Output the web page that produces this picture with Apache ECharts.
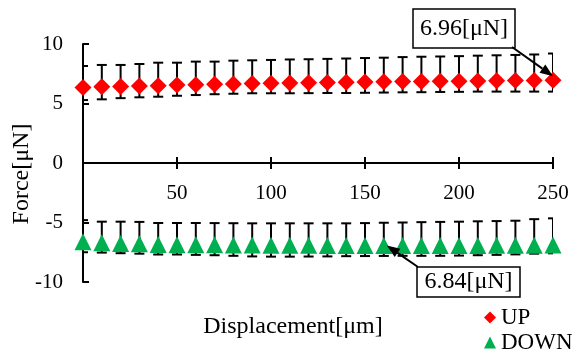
<!DOCTYPE html>
<html>
<head>
<meta charset="utf-8">
<script src="https://cdn.jsdelivr.net/npm/echarts@6/dist/echarts.min.js"></script>
<style>
html,body{margin:0;padding:0;background:#fff;}
#main{width:587px;height:356px;}
</style>
</head>
<body>
<div id="main"></div>
<script>
// displacement [um]
const disp = [0,10,20,30,40,50,60,70,80,90,100,110,120,130,140,150,160,170,180,190,200,210,220,230,240,250];
// UP: mean and error bar ends [uN]
const upMean = [6.35,6.40,6.42,6.47,6.50,6.55,6.57,6.62,6.64,6.68,6.70,6.72,6.74,6.76,6.78,6.80,6.82,6.84,6.85,6.87,6.88,6.90,6.91,6.93,6.94,6.96];
const upHigh = [8.15,8.24,8.24,8.32,8.43,8.43,8.52,8.52,8.60,8.63,8.66,8.70,8.72,8.75,8.78,8.82,8.85,8.90,8.93,8.95,8.98,9.02,9.05,9.08,9.12,9.20];
const upLow  = [5.29,5.35,5.45,5.52,5.57,5.65,5.71,5.78,5.82,5.86,5.86,5.86,5.87,5.88,5.88,5.90,5.92,5.94,5.95,5.97,5.98,6.00,6.00,6.00,6.00,6.00];
// DOWN
const downMean = [-6.62,-6.70,-6.76,-6.78,-6.84,-6.86,-6.87,-6.88,-6.89,-6.90,-6.91,-6.92,-6.92,-6.93,-6.93,-6.94,-6.94,-6.94,-6.94,-6.94,-6.93,-6.93,-6.92,-6.92,-6.91,-6.90];
const downHigh = [-4.80,-4.93,-4.93,-4.95,-5.04,-5.04,-5.04,-5.05,-5.06,-5.07,-5.07,-5.07,-5.07,-5.07,-5.07,-5.05,-5.02,-5.00,-4.97,-4.95,-4.93,-4.90,-4.88,-4.85,-4.72,-4.65];
const downLow  = [-7.50,-7.53,-7.58,-7.62,-7.69,-7.69,-7.72,-7.75,-7.80,-7.85,-7.87,-7.87,-7.86,-7.85,-7.83,-7.82,-7.81,-7.80,-7.80,-7.80,-7.78,-7.75,-7.72,-7.68,-7.62,-7.59];

const upNote = '6.96[μN]';
const downNote = '6.84[μN]';

const FONT = "'Liberation Serif','Times New Roman',serif";

let chart = echarts.init(document.getElementById('main'));

function errorBar(params, api){
    let x = api.value(0);
    let hi = api.coord([x, api.value(1)]);
    let lo = api.coord([x, api.value(2)]);
    let half = 5;
    let style = {stroke:'#000', lineWidth:2};
    return {type:'group', children:[
        {type:'line', shape:{x1:hi[0], y1:hi[1], x2:lo[0], y2:lo[1]}, style:style},
        {type:'line', shape:{x1:hi[0]-half, y1:hi[1], x2:hi[0]+half, y2:hi[1]}, style:style},
        {type:'line', shape:{x1:lo[0]-half, y1:lo[1], x2:lo[0]+half, y2:lo[1]}, style:style}
    ]};
}

let W = 587, H = 356;
let G = {left:83, right:34, top:44, bottom:74};
let zeroY = G.top + (H - G.top - G.bottom)/2;   // y = 0 sits mid-grid (range -10..10)

let tickStyle = {color:'#000', width:2};
let option = {
    animation:false,
    backgroundColor:'#fff',
    grid:[
        {left:G.left, right:G.right, top:G.top, bottom:G.bottom},
        // upper half only: its bottom axis is the zero line, carries labels + outward ticks
        {left:G.left, right:G.right, top:G.top, bottom:H - zeroY}
    ],
    legend:{
        data:['UP','DOWN'],
        orient:'vertical',
        left:484, top:305, height:60,
        padding:0,
        itemWidth:12, itemHeight:12, itemGap:0,
        textStyle:{color:'#000', fontSize:23, fontFamily:FONT, lineHeight:25}
    },
    xAxis:[{
        gridIndex:0, type:'value', min:0, max:250, interval:50,
        axisLine:{onZero:true, lineStyle:tickStyle},
        axisTick:{inside:true, length:6, lineStyle:tickStyle},
        axisLabel:{show:false},
        splitLine:{show:false}
    },{
        gridIndex:1, type:'value', min:0, max:250, interval:50, position:'bottom',
        axisLine:{onZero:false, lineStyle:tickStyle},
        axisTick:{inside:false, length:6, lineStyle:tickStyle},
        axisLabel:{showMinLabel:false, margin:20, color:'#000', fontSize:21, fontFamily:FONT},
        splitLine:{show:false}
    }],
    yAxis:[{
        gridIndex:0, type:'value', min:-10, max:10, interval:5,
        axisLine:{show:true, onZero:false, lineStyle:tickStyle},
        axisTick:{inside:true, length:6, lineStyle:tickStyle},
        axisLabel:{margin:20, color:'#000', fontSize:21, fontFamily:FONT},
        splitLine:{show:false}
    },{
        gridIndex:1, type:'value', min:0, max:10, show:false,
        axisLine:{onZero:false},
        splitLine:{show:false}
    }],
    series:[{
        name:'UPerr', type:'custom', renderItem:errorBar, clip:true, z:1,
        encode:{x:0, y:[1,2]},
        data:disp.map((d,i)=>[d, upHigh[i], upLow[i]])
    },{
        name:'DOWNerr', type:'custom', renderItem:errorBar, clip:true, z:1,
        encode:{x:0, y:[1,2]},
        data:disp.map((d,i)=>[d, downHigh[i], downLow[i]])
    },{
        name:'UP', type:'scatter', symbol:'diamond', symbolSize:17, z:3,
        itemStyle:{color:'#FF0000', opacity:1},
        data:disp.map((d,i)=>[d, upMean[i]])
    },{
        name:'DOWN', type:'scatter', symbol:'triangle', symbolSize:17, z:3,
        itemStyle:{color:'#00B050', opacity:1},
        data:disp.map((d,i)=>[d, downMean[i]])
    }]
};
chart.setOption(option);

// annotations: boxes with arrows to data points
function arrowParts(from, to){
    let dx = to[0]-from[0], dy = to[1]-from[1];
    let len = Math.sqrt(dx*dx+dy*dy);
    let ux = dx/len, uy = dy/len;
    let hl = 13, hw = 5;
    let bx = to[0]-ux*hl, by = to[1]-uy*hl;
    return [
        {type:'line', z:10, shape:{x1:from[0], y1:from[1], x2:bx, y2:by}, style:{stroke:'#000', lineWidth:2}},
        {type:'polygon', z:10, shape:{points:[[to[0],to[1]],[bx-uy*hw,by+ux*hw],[bx+uy*hw,by-ux*hw]]}, style:{fill:'#000'}}
    ];
}
function noteBox(x, y, w, h, txt){
    return [
        {type:'rect', z:10, shape:{x:x, y:y, width:w, height:h}, style:{fill:'#fff', stroke:'#000', lineWidth:1.5}},
        {type:'text', z:11, x:x+w/2, y:y+h/2, style:{text:txt, fill:'#000', font:'24px '+FONT, textAlign:'center', textVerticalAlign:'middle'}}
    ];
}
let pUp = chart.convertToPixel({gridIndex:0}, [disp[25], upMean[25]]);
let pDown = chart.convertToPixel({gridIndex:0}, [disp[16], downMean[16]]);
let g = [];
g = g.concat(noteBox(413, 9, 102, 39, upNote));
g = g.concat(arrowParts([512, 47], [pUp[0], pUp[1]-4]));
g = g.concat(noteBox(417, 267, 103, 30, downNote));
g = g.concat(arrowParts([418, 267], [pDown[0]+3, pDown[1]]));
g.push({type:'text', x:22, y:174, rotation:Math.PI/2,
    style:{text:'Force[μN]', fill:'#000', font:'24px '+FONT, textAlign:'center', textVerticalAlign:'middle'}});
g.push({type:'text', x:293, y:327,
    style:{text:'Displacement[μm]', fill:'#000', font:'24px '+FONT, textAlign:'center', textVerticalAlign:'middle'}});
chart.setOption({graphic:g});
</script>
</body>
</html>
